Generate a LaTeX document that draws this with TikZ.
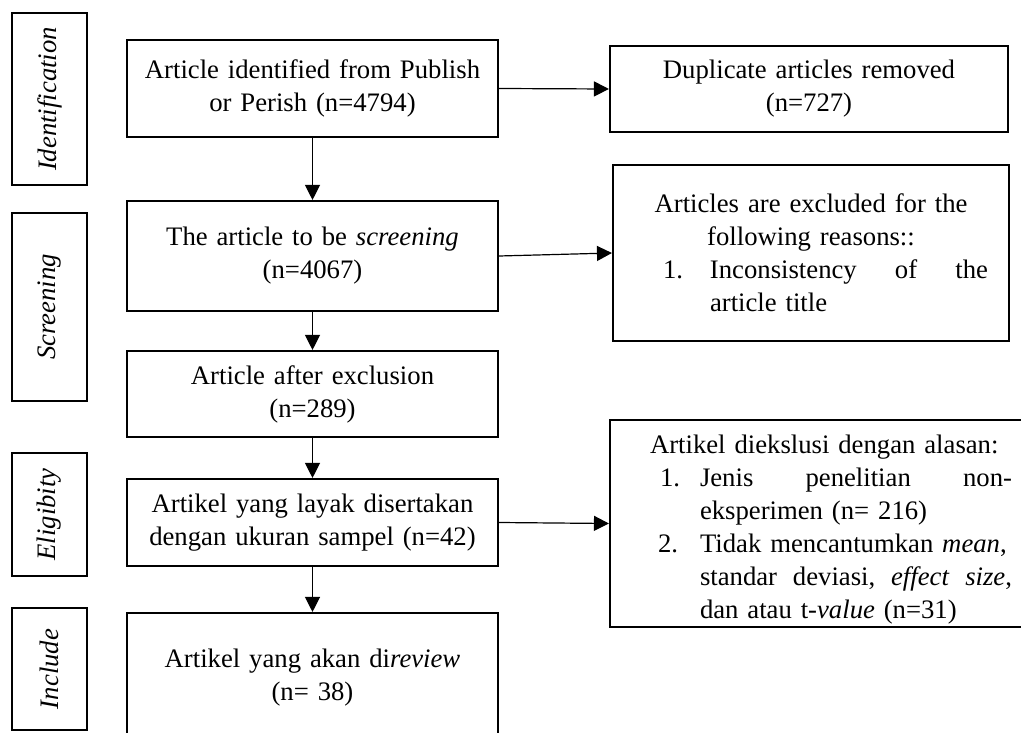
\documentclass[tikz,border=0pt]{standalone}
\usepackage{fontspec}
\setmainfont{Liberation Serif}
\usepackage{graphicx}
\usetikzlibrary{arrows.meta}
\newcommand\diafont{\fontsize{26.7}{33}\selectfont}
\tikzset{
  box/.style={draw, line width=2.1pt, inner sep=0pt, align=center, font=\diafont},
  lbox/.style={draw, line width=2.1pt, inner sep=0pt, align=left, font=\diafont},
  lab/.style={draw, line width=2.1pt, inner sep=0pt, minimum width=75pt, font=\diafont},
  arr/.style={line width=1.2pt, -{Triangle[length=15pt,width=15pt]}}
}
\begin{document}
\begin{tikzpicture}[x=1pt,y=-1pt]
\useasboundingbox (0,0) rectangle (1021,733);
\clip (0,0) rectangle (1021,733);

% stage labels
\node[lab, minimum height=172pt] (l1) at (49.5,99) {\rotatebox{90}{\itshape Identification}};
\node[lab, minimum height=188pt] (l2) at (49.5,307) {\rotatebox{90}{\itshape Screening}};
\node[lab, minimum height=123pt] (l3) at (49.5,514.5) {\rotatebox{90}{\itshape Eligibity}};
\node[lab, minimum height=122pt] (l4) at (49.5,669) {\rotatebox{90}{\itshape Include}};

% main column
\node[box, text width=371pt, minimum height=97pt] (b1) at (312.5,88.5)
  {Article identified from Publish\\ or Perish (n=4794)};
\node[box, text width=371pt, minimum height=110pt] (b2) at (312.5,256)
  {The article to be \textit{screening}\\ (n=4067)};
\node[box, text width=371pt, minimum height=86pt] (b3) at (312.5,394)
  {Article after exclusion\\ (n=289)};
\node[box, text width=371pt, minimum height=87pt] (b4) at (312.5,522.5)
  {Artikel yang layak disertakan\\ dengan ukuran sampel (n=42)};
\node[box, text width=371pt, minimum height=130pt] (b5) at (312.5,678)
  {Artikel yang akan di\textit{review}\\ (n= 38)};

% right column
\node[box, text width=398pt, minimum height=86pt] (dup) at (809,89)
  {Duplicate articles removed\\ (n=727)};
\node[lbox, text width=396pt, minimum height=176pt] (exc) at (811,253)
  {\makebox[396pt]{Articles are excluded for the}\\
   \makebox[396pt]{following reasons::}\\
   \hspace*{50pt}\makebox[47pt][l]{1.}\hbox to 278pt{Inconsistency\hfill of\hfill the}\\
   \hspace*{97pt}article title};
\node[lbox, text width=442pt, minimum height=207pt] (art) at (831,523.5)
  {\rule{0pt}{31pt}\hspace*{40pt}Artikel diekslusi dengan alasan:\\
   \hspace*{50pt}\makebox[40pt][l]{1.}\hbox to 312pt{Jenis\hfill penelitian\hfill non-}\\
   \hspace*{90pt}eksperimen (n= 216)\\
   \hspace*{48pt}\makebox[42pt][l]{2.}Tidak mencantumkan \textit{mean},\\
   \hspace*{90pt}\hbox to 312pt{standar\hfill deviasi,\hfill \textit{effect}\hfill \textit{size},}\\
   \hspace*{90pt}dan atau t-\textit{value} (n=31)};

% connectors
\draw[arr] (b1) -- (b2);
\draw[arr] (b2) -- (b3);
\draw[arr] (b3) -- (b4);
\draw[arr] (b4) -- (b5);
\draw[arr] (b1.east) -- (dup.west);
\draw[arr] (b2.east) -- (exc.west);
\draw[arr] (b4.east) -- (art.west);
\end{tikzpicture}
\end{document}
